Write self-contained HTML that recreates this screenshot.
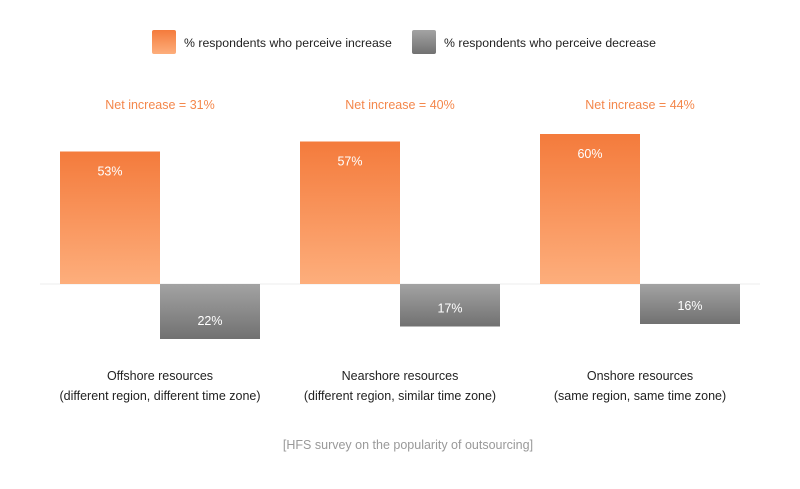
<!DOCTYPE html>
<html><head><meta charset="utf-8"><style>
body{margin:0;background:#fff;font-family:"Liberation Sans",sans-serif;}
svg text{font-family:"Liberation Sans",sans-serif;}
</style></head><body>
<svg width="800" height="484" viewBox="0 0 800 484">
<defs>
<linearGradient id="go" x1="0" y1="0" x2="0" y2="1"><stop offset="0" stop-color="#f47b3c"/><stop offset="1" stop-color="#fdae7c"/></linearGradient>
<linearGradient id="gg" x1="0" y1="0" x2="0" y2="1"><stop offset="0" stop-color="#a3a3a3"/><stop offset="1" stop-color="#717171"/></linearGradient>
</defs>
<rect x="152" y="30" width="24" height="24" rx="2" fill="url(#go)"/>
<text x="184" y="47" font-size="12.3" fill="#222">% respondents who perceive increase</text>
<rect x="412" y="30" width="24" height="24" rx="2" fill="url(#gg)"/>
<text x="444" y="47" font-size="12.3" fill="#222">% respondents who perceive decrease</text>
<line x1="40" y1="284" x2="760" y2="284" stroke="#eee"/>
<g id="bars"></g>
<text x="408" y="449" font-size="12.5" fill="#999" text-anchor="middle">[HFS survey on the popularity of outsourcing]</text>
</svg>
<script>
const categories1 = ["Offshore resources","Nearshore resources","Onshore resources"];
const categories2 = ["(different region, different time zone)","(different region, similar time zone)","(same region, same time zone)"];
const increase = [53,57,60];
const decrease = [22,17,16];
const net = [31,40,44];
const base = 284, scale = 2.5;
const y = v => v*scale;
const ns = "http://www.w3.org/2000/svg";
const g = document.getElementById('bars');
function mk(tag, attrs, txt){const e=document.createElementNS(ns,tag);for(const k in attrs)e.setAttribute(k,attrs[k]);if(txt!==undefined)e.textContent=txt;g.appendChild(e);return e;}
categories1.forEach((c,i)=>{
  const x0 = 60 + i*240;
  let e = mk('rect',{x:x0,y:base-y(increase[i]),width:100,height:y(increase[i]),fill:'url(#go)'});
  
  
  e = mk('text',{x:x0+50,y:base-y(increase[i])+24,'font-size':12.5,fill:'#fff','text-anchor':'middle'},increase[i]+'%');
  
  
  e = mk('rect',{x:x0+100,y:base,width:100,height:y(decrease[i]),fill:'url(#gg)'});
  
  
  e = mk('text',{x:x0+150,y:base+y(decrease[i])-14,'font-size':12.5,fill:'#fff','text-anchor':'middle'},decrease[i]+'%');
  
  
  e = mk('text',{x:x0+100,y:109,'font-size':12.5,fill:'#f4874b','text-anchor':'middle'},'Net increase = '+net[i]+'%');
  
  
  e = mk('text',{x:x0+100,y:380,'font-size':12.5,fill:'#222','text-anchor':'middle'},c);
  
  
  e = mk('text',{x:x0+100,y:400,'font-size':12.5,fill:'#222','text-anchor':'middle'},categories2[i]);
  
  
});
</script>
</body></html>
